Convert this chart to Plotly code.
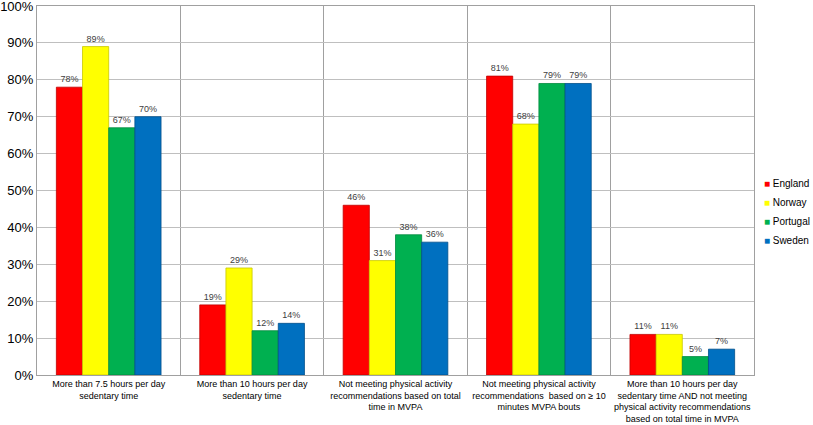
import plotly.graph_objects as go

categories = [
    "More than 7.5 hours per day<br>sedentary time",
    "More than 10 hours per day<br>sedentary time",
    "Not meeting physical activity<br>recommendations based on total<br>time in MVPA",
    "Not meeting physical activity<br>recommendations  based on ≥ 10<br>minutes MVPA bouts",
    "More than 10 hours per day<br>sedentary time AND not meeting<br>physical activity recommendations<br>based on total time in MVPA",
]
england = [78, 19, 46, 81, 11]
norway = [89, 29, 31, 68, 11]
portugal = [67, 12, 38, 79, 5]
sweden = [70, 14, 36, 79, 7]
y_ticks = [0, 10, 20, 30, 40, 50, 60, 70, 80, 90, 100]

series = [
    ("England", england, "#FF0000", "#C00000"),
    ("Norway", norway, "#FFFF00", "#C8C800"),
    ("Portugal", portugal, "#00B050", "#008A3E"),
    ("Sweden", sweden, "#0070C0", "#004F8A"),
]

xpos = list(range(len(categories)))

fig = go.Figure()
for name, vals, col, edge in series:
    fig.add_trace(go.Bar(
        x=xpos, y=vals, name=name, showlegend=False,
        marker=dict(color=col, line=dict(color=edge, width=0.8)),
        text=[f"{v}%" for v in vals], textposition="outside",
        textfont=dict(size=9, color="#404040", family="Liberation Sans"),
        cliponaxis=False,
    ))
# legend entries: coloured square glyph inside the label text
for name, vals, col, edge in series:
    fig.add_trace(go.Scatter(
        x=[None], y=[None], mode="lines", line=dict(width=0, color="rgba(0,0,0,0)"),
        name=f"<span style='color:{col}'>■</span> {name}", showlegend=True,
        hoverinfo="skip",
    ))

fig.update_layout(
    width=813, height=425,
    margin=dict(l=37, r=59, t=6, b=50, autoexpand=False),
    paper_bgcolor="white", plot_bgcolor="white",
    barmode="group", bargap=0.27, bargroupgap=0,
    font=dict(family="Liberation Sans", color="#000000"),
    legend=dict(x=0.958, y=0.442, xanchor="left", yanchor="middle",
                bgcolor="rgba(0,0,0,0)",
                font=dict(size=10, family="Liberation Sans"), tracegroupgap=0),
    xaxis=dict(
        range=[-0.5, 4.5], tickvals=xpos, ticktext=categories, tickangle=0,
        tickfont=dict(size=9, family="Liberation Sans"),
        showgrid=False, showline=True, linecolor="#A0A0A0", mirror=True,
        ticks="", zeroline=False, automargin=False,
        minor=dict(tickvals=[0.5, 1.5, 2.5, 3.5], showgrid=True,
                   gridcolor="#A0A0A0", gridwidth=1, ticks=""),
    ),
    yaxis=dict(
        range=[0, 100], tickvals=y_ticks, ticktext=[f"{v}%" for v in y_ticks],
        automargin=False, ticklabeloverflow="allow",
        tickfont=dict(size=13, family="Liberation Sans"),
        showgrid=True, gridcolor="#BFBFBF", gridwidth=1,
        showline=True, linecolor="#A0A0A0", mirror=True, zeroline=False,
    ),
)

fig.write_html("out.html", config={"displayModeBar": False},
               post_script="document.body.style.margin='0';")
